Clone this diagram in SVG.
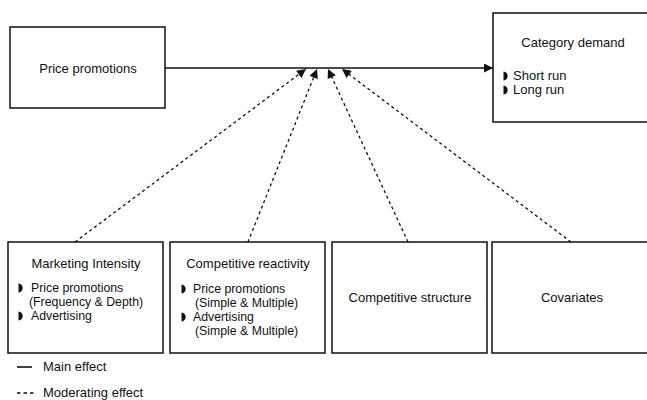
<svg xmlns="http://www.w3.org/2000/svg" xmlns:xlink="http://www.w3.org/1999/xlink" width="647" height="400" viewBox="0 0 647 400">
<style>
.box{fill:#fff;stroke:#111;stroke-width:1.5}
.t{font-family:"Liberation Sans",Arial,sans-serif;font-size:13px;fill:#111}
.s{font-size:12.3px}
.c{text-anchor:middle}
.main{stroke:#111;stroke-width:1.6;fill:none}
.mod{stroke:#111;stroke-width:1.3;fill:none;stroke-dasharray:3 3}
</style>
<defs>
<marker id="ah" viewBox="0 0 10 10" refX="10" refY="5" markerWidth="10" markerHeight="9" markerUnits="userSpaceOnUse" orient="auto">
<path d="M0,0 L10,5 L0,10 z" fill="#111"/>
</marker>
<path id="bul" d="M-0.5,-4.5 C5,-4.5 5,4.5 -0.5,4.5 z" fill="#111"/>
</defs>
<rect width="647" height="400" fill="#fff"/>

<g id="price-promotions">
<rect class="box" x="10" y="27" width="155" height="81"/>
<text class="t c" x="88" y="73">Price promotions</text>
</g>

<g id="category-demand">
<rect class="box" x="493" y="13" width="160" height="109"/>
<text class="t c" x="573" y="47">Category demand</text>
<use xlink:href="#bul" x="504" y="76"/>
<text class="t" x="513" y="80">Short run</text>
<use xlink:href="#bul" x="504" y="90"/>
<text class="t" x="513" y="94">Long run</text>
</g>

<g id="marketing-intensity">
<rect class="box" x="8" y="242" width="155" height="111"/>
<text class="t c" x="86" y="268">Marketing Intensity</text>
<use xlink:href="#bul" x="19" y="288"/>
<text class="t s" x="31" y="292">Price promotions</text>
<text class="t s" x="29" y="306">(Frequency &amp; Depth)</text>
<use xlink:href="#bul" x="19" y="316"/>
<text class="t s" x="31" y="320">Advertising</text>
</g>

<g id="competitive-reactivity">
<rect class="box" x="170" y="242" width="155" height="111"/>
<text class="t c" x="248" y="268">Competitive reactivity</text>
<use xlink:href="#bul" x="182" y="289"/>
<text class="t s" x="193" y="293">Price promotions</text>
<text class="t s" x="195" y="307">(Simple &amp; Multiple)</text>
<use xlink:href="#bul" x="182" y="317"/>
<text class="t s" x="193" y="321">Advertising</text>
<text class="t s" x="195" y="335">(Simple &amp; Multiple)</text>
</g>

<g id="competitive-structure">
<rect class="box" x="332" y="242" width="155" height="111"/>
<text class="t c" x="410" y="302">Competitive structure</text>
</g>

<g id="covariates">
<rect class="box" x="492" y="242" width="160" height="111"/>
<text class="t c" x="572" y="302">Covariates</text>
</g>

<g id="connectors">
<line class="main" x1="165" y1="68" x2="493" y2="68" marker-end="url(#ah)"/>
<line class="mod" x1="75" y1="242" x2="306" y2="69" marker-end="url(#ah)"/>
<line class="mod" x1="248" y1="242" x2="317" y2="69" marker-end="url(#ah)"/>
<line class="mod" x1="408" y1="242" x2="328" y2="69" marker-end="url(#ah)"/>
<line class="mod" x1="571" y1="242" x2="342" y2="69" marker-end="url(#ah)"/>
</g>

<g id="legend">
<line class="main" x1="17" y1="367" x2="32" y2="367"/>
<text class="t" x="43" y="371">Main effect</text>
<line class="mod" x1="17" y1="393" x2="34" y2="393" style="stroke-dasharray:3.5 3"/>
<text class="t" x="43" y="397">Moderating effect</text>
</g>
</svg>
